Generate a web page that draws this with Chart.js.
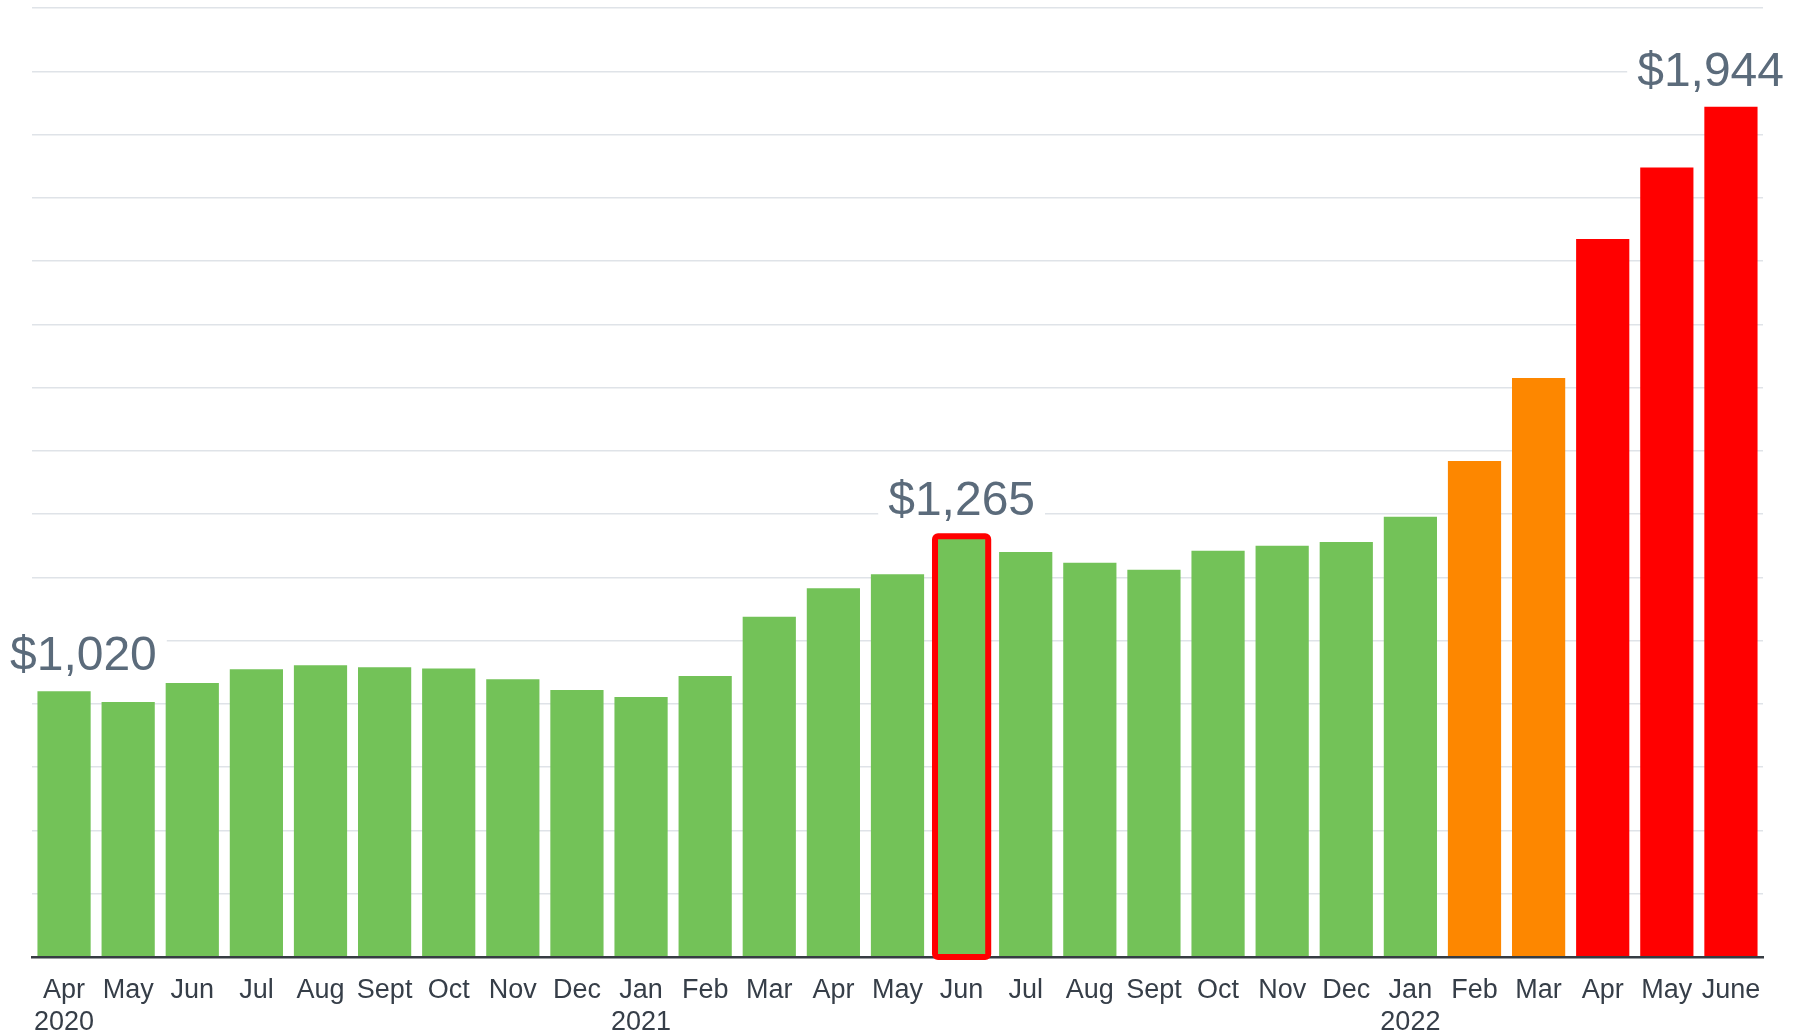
<!DOCTYPE html>
<html>
<head>
<meta charset="utf-8">
<script src="https://cdn.jsdelivr.net/npm/chart.js@4/dist/chart.umd.min.js"></script>
<style>
html,body{margin:0;padding:0;background:#ffffff;overflow:hidden}
#wrap{width:1802px;height:1035px;position:relative}
</style>
</head>
<body>
<div id="wrap"><canvas id="c"></canvas></div>
<script>
// ---- data ----
const months = [
  ["Apr","2020"], "May", "Jun", "Jul", "Aug", "Sept", "Oct", "Nov", "Dec",
  ["Jan","2021"], "Feb", "Mar", "Apr", "May", "Jun", "Jul", "Aug", "Sept", "Oct", "Nov", "Dec",
  ["Jan","2022"], "Feb", "Mar", "Apr", "May", "June"
];
const rent = [
  1020, 1003, 1033, 1055, 1061, 1058, 1056, 1039, 1022,
  1011, 1044, 1138, 1183, 1205, 1265, 1240, 1223, 1212, 1242, 1250, 1256,
  1296, 1384, 1515, 1735, 1848, 1944
];
const tier = [
  "ok","ok","ok","ok","ok","ok","ok","ok","ok",
  "ok","ok","ok","ok","ok","ok","ok","ok","ok","ok","ok","ok",
  "ok","warn","warn","high","high","high"
];
const labeledIdx = [0, 14, 26];
const highlightIdx = 14;
const yMin = 600, yMax = 2100, yStep = 100;

// ---- styles ----
const tierColor = { ok: "#73c258", warn: "#fd8700", high: "#ff0000" };
const FONT = '"Liberation Sans", Arial, Helvetica, sans-serif';

const annot = {
  id: "annot",
  afterDraw(chart) {
    const ctx = chart.ctx;
    const meta = chart.getDatasetMeta(0);
    const bottom = chart.scales.y.getPixelForValue(yMin);
    ctx.save();
    // highlight frame
    const b = meta.data[highlightIdx];
    const w = b.width;
    ctx.strokeStyle = "#ff0000";
    ctx.lineWidth = 6;
    ctx.lineJoin = "round";
    ctx.beginPath();
    if (ctx.roundRect) ctx.roundRect(b.x - w / 2, b.y, w, bottom - b.y, 3);
    else ctx.rect(b.x - w / 2, b.y, w, bottom - b.y);
    ctx.stroke();
    // value labels
    ctx.font = "48px " + FONT;
    ctx.textBaseline = "alphabetic";
    ctx.textAlign = "left";
    for (const i of labeledIdx) {
      const el = meta.data[i];
      const text = "$" + rent[i].toLocaleString("en-US");
      const tw = ctx.measureText(text).width;
      const pad = 10;
      const boxW = tw + 2 * pad;
      let left = el.x - boxW / 2;
      if (left < 0) left = 0;
      if (left + boxW > chart.width - 8) left = chart.width - 8 - boxW;
      const base = el.y - 21;
      ctx.fillStyle = "#ffffff";
      ctx.fillRect(left, base - 42, boxW, 54);
      ctx.fillStyle = "#5b6b7b";
      ctx.fillText(text, left + pad, base);
    }
    ctx.restore();
  }
};

new Chart(document.getElementById("c"), {
  type: "bar",
  data: {
    labels: months,
    datasets: [{
      data: rent,
      backgroundColor: tier.map(t => tierColor[t]),
      borderWidth: 0,
      barPercentage: 0.83,
      categoryPercentage: 1.0
    }]
  },
  options: {
    responsive: true,
    maintainAspectRatio: false,
    animation: false,
    layout: { padding: { left: 32, right: 39, top: 8, bottom: 0 } },
    plugins: { legend: { display: false }, tooltip: { enabled: false } },
    scales: {
      x: {
        grid: { display: false, drawTicks: false },
        border: { display: true, color: "#363c43", width: 2.5, z: 1 },
        ticks: {
          color: "#363e48",
          font: { family: FONT, size: 27 },
          padding: 17,
          maxRotation: 0,
          minRotation: 0,
          autoSkip: false
        },
        afterFit(scale) { scale.height = 78; }
      },
      y: {
        min: yMin,
        max: yMax,
        grid: {
          color: ctx => ctx.tick && ctx.tick.value === yMin ? "rgba(0,0,0,0)" : "#dfe3e8",
          lineWidth: 1.5,
          drawTicks: false
        },
        border: { display: false },
        ticks: { display: false, stepSize: yStep }
      }
    }
  },
  plugins: [annot]
});
</script>
</body>
</html>
